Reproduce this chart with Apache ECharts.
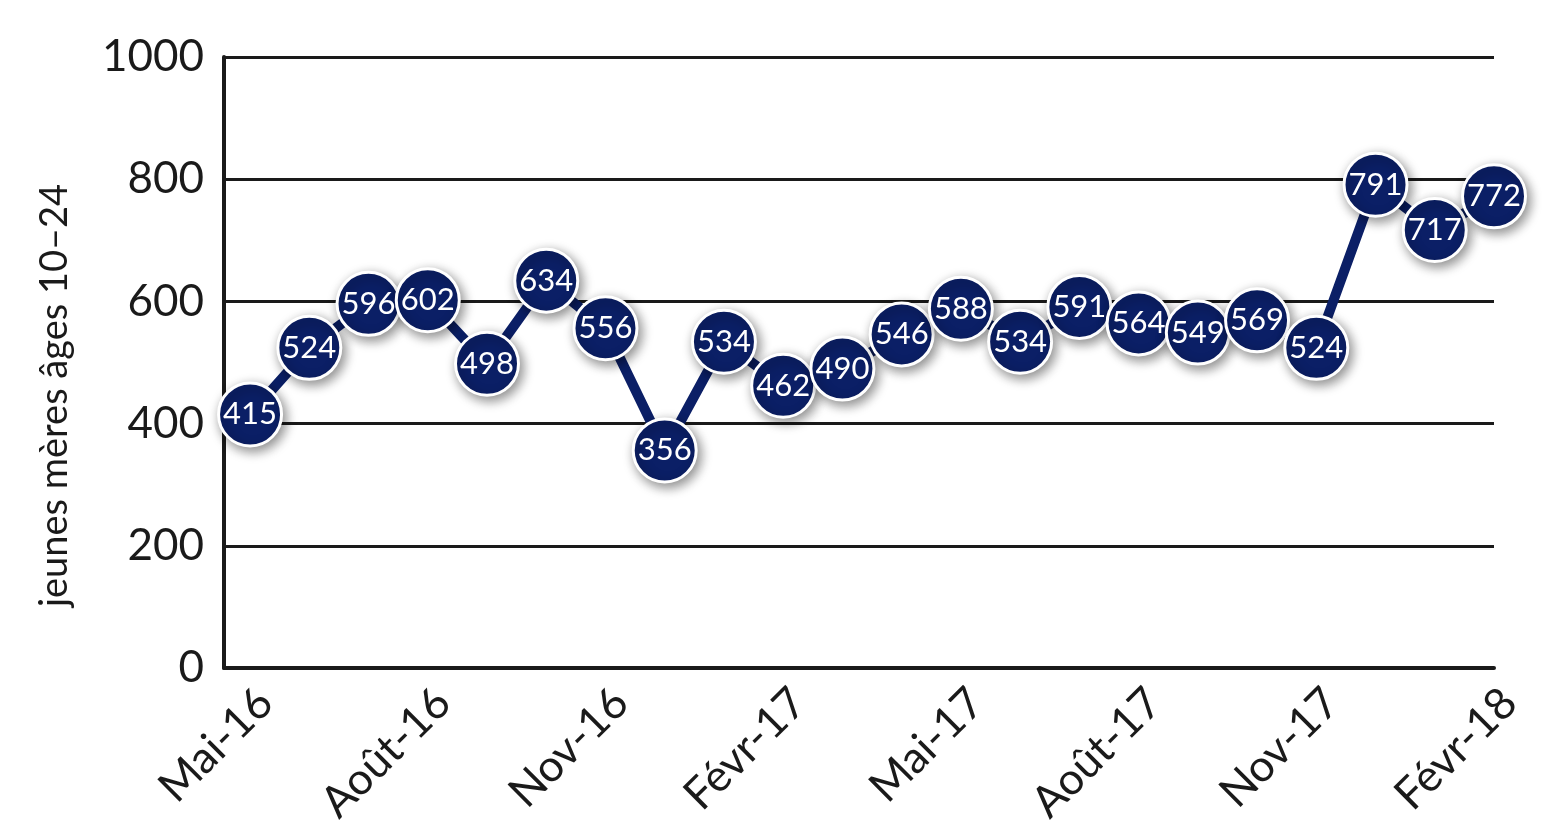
<!DOCTYPE html>
<html><head><meta charset="utf-8">
<script src="https://cdn.jsdelivr.net/npm/echarts@6/dist/echarts.min.js"></script>
<style>html,body{margin:0;padding:0;background:#fff}#c{width:1549px;height:830px}</style>
</head><body><div id="c"></div>
<script>
var months = ['Mai-16','Juin-16','Juil-16','Août-16','Sept-16','Oct-16','Nov-16','Déc-16','Janv-17','Févr-17','Mars-17','Avr-17','Mai-17','Juin-17','Juil-17','Août-17','Sept-17','Oct-17','Nov-17','Déc-17','Janv-18','Févr-18'];
var values = [415,524,596,602,498,634,556,356,534,462,490,546,588,534,591,564,549,569,524,791,717,772];
var labelIdx = [0,3,6,9,12,15,18,21];
var FONT = 'Lato';
var chart = echarts.init(document.getElementById('c'));
chart.setOption({
  animation:false,
  grid:{left:224,right:55,top:57,bottom:162,containLabel:false},
  xAxis:{type:'value',min:-0.44,max:21,
    axisLine:{show:true,onZero:false,lineStyle:{color:'#1a1a1a',width:4}},
    axisTick:{show:false},splitLine:{show:false},
    axisLabel:{customValues:labelIdx,rotate:45,margin:12,verticalAlign:'top',fontSize:44,color:'#1a1a1a',fontFamily:FONT,
      showMinLabel:true,showMaxLabel:true,
      formatter:function(v){return months[Math.round(v)];}}},
  yAxis:{type:'value',min:0,max:1000,interval:200,
    name:'jeunes mères âges 10–24',nameLocation:'middle',nameGap:150,nameRotate:90,
    nameTextStyle:{fontSize:38,color:'#1a1a1a',fontFamily:FONT,padding:[0,66,0,0]},
    axisLine:{show:true,onZero:false,lineStyle:{color:'#1a1a1a',width:4}},
    axisTick:{show:false},
    splitLine:{show:true,lineStyle:{color:'#1a1a1a',width:3}},
    axisLabel:{fontSize:44,color:'#1a1a1a',margin:20,fontFamily:FONT,formatter:function(v){return String(v);}}},
  series:[{type:'line',data:values.map(function(v,i){return [i,v];}),
    lineStyle:{color:'#0b1f66',width:10},
    symbol:'circle',symbolSize:63,showAllSymbol:true,
    itemStyle:{color:'#0b1f66',borderColor:'#fff',borderWidth:3,shadowBlur:12,shadowColor:'rgba(0,0,0,0.45)',shadowOffsetX:3,shadowOffsetY:4},
    label:{show:true,position:'inside',color:'#fff',fontSize:31,fontFamily:FONT,
      formatter:function(p){return p.value[1];}},
    z:3}]
});
</script></body></html>
